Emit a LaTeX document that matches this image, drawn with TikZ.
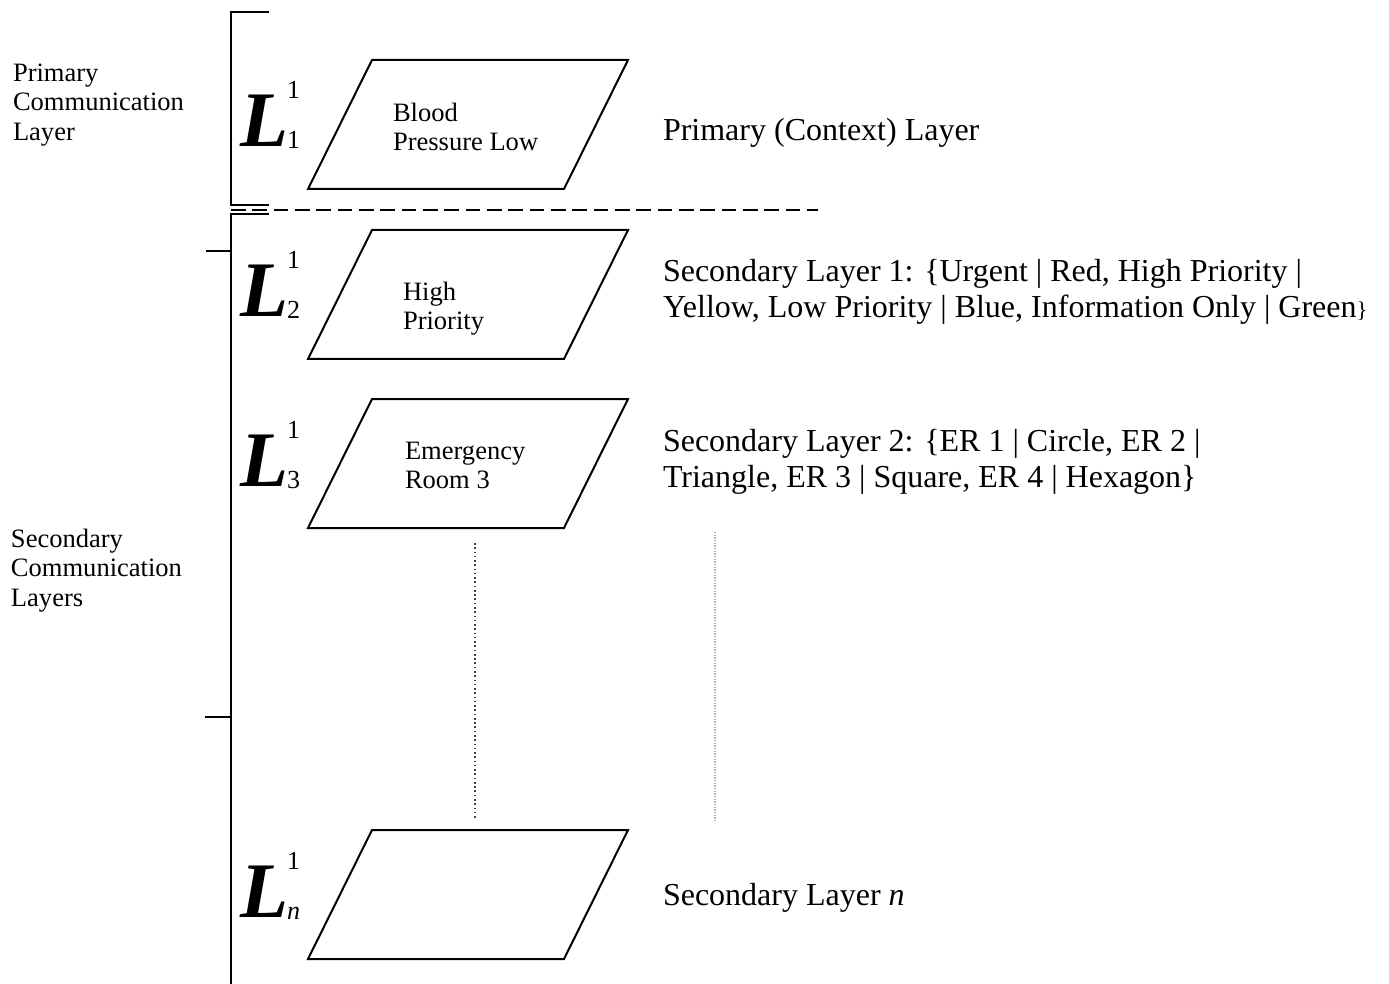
\documentclass[tikz,border=0pt]{standalone}
\usepackage{fontspec}
\setmainfont{Liberation Serif}
\usetikzlibrary{positioning}

\begin{document}
\begin{tikzpicture}[x=0.75pt, y=-0.75pt,
            every node/.style={inner sep=0pt, outer sep=0pt},
            rule/.style={line width=1.5pt},
            layerbox/.style={line width=1.5pt, line join=miter},
            sidelabel/.style={anchor=north west, align=left, font=\fontsize{19.9}{22}\selectfont},
            boxtext/.style={anchor=north west, align=left, font=\fontsize{19.9}{22}\selectfont},
            desc/.style={anchor=north west, align=left, font=\fontsize{24}{27}\selectfont},
            bigL/.style={anchor=base west, font=\fontsize{59}{59}\selectfont\bfseries\itshape},
            script/.style={anchor=base west, font=\fontsize{19.5}{20}\selectfont}
        ]
        \useasboundingbox (0,0) rectangle (1389,984);

        % bracket and layer separator
        \draw[rule] (269,12) -- (231,12) -- (231,205) -- (269,205);
        \draw[rule] (269,214) -- (231,214) -- (231,984);
        \draw[rule] (206,251) -- (231,251);
        \draw[rule] (205,717) -- (231,717);
        \draw[line width=1.5pt, dash pattern=on 11pt off 5pt] (231,210) -- (818,210);

        % layers
        \foreach \t/\s [count=\i] in {60/1, 230/2, 399/3, 830/\textit{n}} {
            \draw[layerbox] (372,\t) -- (628,\t) -- (564,\t+129) -- (308,\t+129) -- cycle;
            \node[bigL] (L\i) at (240,\t+87) {L};
            \node[script] (sup\i) at (287,\t+39) {1};
            \node[script] (sub\i) at (287,\t+89) {\s};
        }

        \node[sidelabel] (primlabel) at (13,64) {Primary\\Communication\\Layer};
        \node[sidelabel] (seclabel) at (11,529) {Secondary\\Communication\\Layers};

        \node[boxtext] (bp) at (393,103) {Blood\\Pressure Low};
        \node[boxtext] (hp) at (403,282) {High\\Priority};
        \node[boxtext] (er) at (405,442) {Emergency\\Room 3};

        \node[desc] (primdesc) at (663,118) {Primary (Context) Layer};
        \node[desc] (sec1) at (663,259) {Secondary Layer 1: \{Urgent | Red, High Priority |\\Yellow, Low Priority | Blue, Information Only | Green{\fontsize{17}{17}\selectfont\}}};
        \node[desc] (sec2) at (663,429) {Secondary Layer 2: \{ER 1 | Circle, ER 2 |\\Triangle, ER 3 | Square, ER 4 | Hexagon\}};
        \node[desc, anchor=base west] (secn) at (663,905) {Secondary Layer \textit{n}};

        % continuation marks
        \draw[dotted, line width=1.2pt, black!75] (475,543) -- (475,819);
        \draw[gray!60, line width=0.8pt, dash pattern=on 1pt off 1pt] (715,532) -- (715,822);
        \end{tikzpicture}
\end{document}
